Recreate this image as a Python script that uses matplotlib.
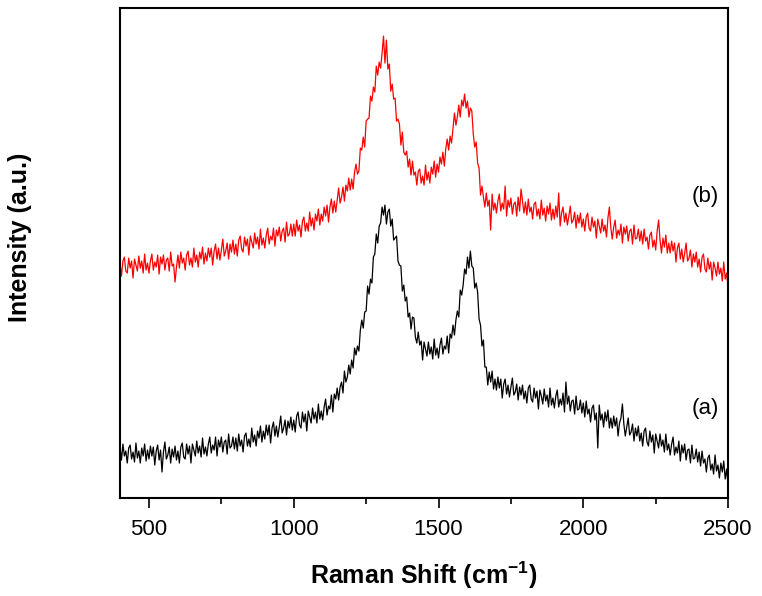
import numpy as np
import matplotlib
matplotlib.use("Agg")
import matplotlib.pyplot as plt
from matplotlib.ticker import MultipleLocator

plt.rcParams['font.family'] = ['Liberation Sans', 'DejaVu Sans']
plt.rcParams['mathtext.fontset'] = 'custom'
plt.rcParams['mathtext.rm'] = 'Liberation Sans'
plt.rcParams['mathtext.bf'] = 'Liberation Sans:bold'

# Raman shift axis, 400..2500 cm-1 every 5 cm-1
shift = np.arange(400, 2501, 5)

# spectrum (a), black  (one row = 100 cm-1)
int_a = [
    51, 38, 54, 42, 47, 35, 50, 53, 39, 46, 36, 55, 40, 47, 35, 50, 42, 54, 37, 48,
    39, 52, 42, 51, 33, 47, 53, 38, 48, 26, 46, 56, 39, 43, 51, 35, 49, 41, 52, 38,
    47, 35, 51, 55, 41, 39, 54, 44, 52, 35, 54, 48, 42, 57, 45, 52, 41, 60, 44, 51,
    42, 54, 61, 45, 53, 48, 61, 42, 58, 51, 61, 46, 56, 58, 44, 64, 50, 52, 61, 49,
    60, 47, 64, 52, 58, 46, 62, 65, 52, 59, 51, 70, 56, 63, 52, 67, 60, 72, 56, 67,
    59, 73, 63, 73, 55, 70, 76, 62, 72, 61, 71, 82, 65, 70, 78, 63, 77, 70, 81, 68,
    78, 66, 82, 86, 73, 70, 86, 76, 84, 67, 87, 81, 75, 90, 79, 86, 75, 94, 79, 87,
    78, 91, 99, 83, 92, 89, 103, 86, 104, 99, 110, 98, 111, 116, 105, 127, 116, 121, 133, 124,
    138, 130, 150, 143, 152, 147, 168, 178, 170, 186, 187, 212, 204, 219, 215, 241, 244, 264, 255, 272,
    275, 291, 283, 293, 274, 286, 289, 272, 279, 258, 260, 262, 237, 233, 232, 207, 213, 197, 201, 181,
    185, 169, 181, 180, 161, 155, 166, 153, 157, 138, 156, 149, 142, 156, 144, 151, 139, 159, 143, 150,
    140, 153, 160, 144, 152, 149, 162, 145, 164, 160, 173, 163, 178, 187, 181, 208, 203, 213, 229, 224,
    241, 230, 247, 232, 230, 210, 215, 206, 179, 173, 152, 158, 131, 131, 113, 126, 116, 127, 109, 119,
    108, 121, 110, 119, 100, 114, 119, 104, 113, 101, 111, 120, 103, 106, 114, 98, 111, 103, 113, 99,
    107, 95, 110, 113, 99, 96, 110, 100, 107, 89, 108, 102, 94, 109, 97, 103, 91, 110, 93, 100,
    90, 102, 108, 91, 99, 93, 105, 86, 116, 94, 102, 87, 97, 98, 84, 102, 88, 89, 98, 85,
    95, 81, 97, 84, 89, 76, 90, 93, 78, 85, 50, 93, 78, 84, 71, 86, 77, 88, 70, 80,
    70, 82, 72, 80, 62, 75, 80, 94, 74, 62, 71, 80, 63, 66, 74, 57, 70, 62, 72, 57,
    65, 52, 67, 70, 56, 52, 67, 56, 63, 45, 64, 57, 50, 64, 52, 58, 46, 64, 48, 54,
    43, 54, 61, 43, 51, 45, 57, 37, 53, 45, 54, 38, 48, 49, 35, 53, 39, 40, 49, 36,
    46, 32, 47, 35, 39, 26, 40, 43, 28, 34, 24, 43, 27, 33, 20, 35, 26, 37, 19, 29,
    12,
]

# spectrum (b), red
int_b = [
    234, 222, 237, 241, 227, 225, 240, 230, 237, 220, 239, 233, 227, 242, 230, 237, 225, 244, 228, 235,
    225, 237, 244, 228, 236, 231, 243, 224, 241, 234, 243, 228, 238, 240, 227, 246, 232, 234, 216, 231,
    243, 230, 246, 235, 240, 228, 243, 247, 233, 240, 231, 250, 236, 243, 231, 246, 239, 251, 234, 245,
    237, 250, 241, 250, 233, 247, 254, 239, 250, 238, 248, 259, 242, 247, 255, 239, 254, 246, 258, 244,
    254, 242, 258, 262, 249, 246, 261, 252, 259, 243, 262, 256, 250, 265, 254, 261, 249, 269, 253, 260,
    250, 263, 270, 254, 262, 258, 270, 252, 268, 262, 271, 257, 267, 270, 256, 276, 262, 264, 274, 262,
    274, 262, 278, 267, 273, 261, 277, 281, 267, 275, 267, 286, 272, 280, 268, 284, 277, 289, 273, 284,
    277, 291, 282, 293, 276, 291, 299, 285, 297, 286, 298, 310, 295, 301, 311, 297, 313, 307, 320, 308,
    319, 309, 326, 334, 324, 327, 350, 348, 361, 351, 377, 379, 380, 402, 397, 411, 406, 432, 423, 436,
    430, 445, 462, 435, 458, 429, 434, 407, 414, 399, 400, 377, 379, 374, 353, 366, 346, 343, 347, 331,
    339, 323, 337, 323, 326, 313, 327, 329, 315, 322, 313, 333, 318, 326, 315, 331, 324, 337, 321, 334,
    326, 341, 334, 346, 332, 349, 359, 348, 362, 355, 370, 385, 373, 381, 393, 381, 398, 392, 404, 390,
    397, 381, 390, 387, 364, 351, 356, 335, 330, 303, 312, 301, 291, 305, 292, 298, 268, 304, 288, 295,
    285, 297, 304, 287, 295, 289, 312, 282, 298, 291, 300, 284, 294, 296, 282, 301, 287, 309, 297, 285,
    296, 283, 299, 286, 291, 279, 294, 296, 282, 289, 279, 298, 283, 290, 277, 292, 284, 295, 278, 289,
    279, 292, 281, 305, 272, 285, 291, 276, 285, 273, 282, 292, 275, 278, 286, 270, 283, 275, 285, 271,
    279, 267, 281, 285, 270, 267, 281, 271, 277, 260, 279, 272, 265, 279, 267, 273, 261, 280, 291, 270,
    259, 271, 278, 260, 268, 263, 274, 255, 271, 264, 272, 257, 267, 269, 254, 273, 259, 260, 269, 257,
    267, 254, 269, 257, 261, 249, 263, 266, 251, 258, 248, 267, 278, 258, 245, 260, 251, 263, 245, 255,
    245, 257, 247, 255, 236, 250, 255, 239, 249, 236, 245, 255, 237, 240, 248, 231, 244, 236, 246, 231,
    239, 226, 241, 244, 229, 226, 240, 229, 236, 218, 236, 230, 222, 236, 224, 230, 217, 236, 219, 225,
    210,
]

fig = plt.figure(figsize=(7.62, 5.96), dpi=100)
ax = fig.add_axes([0.1575, 0.1644, 0.798, 0.822])

ax.plot(shift, int_a, color='black', lw=0.9)
ax.plot(shift, int_b, color='#ff0000', lw=0.9)

ax.text(2420, 302, '(b)', fontsize=16, ha='center', va='center')
ax.text(2420, 90, '(a)', fontsize=16, ha='center', va='center')

ax.set_xlim(400, 2500)
ax.set_ylim(0, 490)
ax.xaxis.set_major_locator(MultipleLocator(500))
ax.xaxis.set_minor_locator(MultipleLocator(250))
ax.tick_params(axis='x', which='major', direction='out', length=7, width=1.2,
               labelsize=16, pad=8)
ax.tick_params(axis='x', which='minor', direction='out', length=4, width=1.2)
ax.set_yticks([])
for s in ax.spines.values():
    s.set_linewidth(1.5)

ax.set_xlabel(r'Raman Shift (cm$^{\mathbf{-1}}$)', fontsize=18,
              fontweight='bold', labelpad=14)
ax.set_ylabel('Intensity (a.u.)', fontsize=18, fontweight='bold')
ax.yaxis.set_label_coords(-0.145, 0.533)

fig.savefig('out.png', dpi=100)
